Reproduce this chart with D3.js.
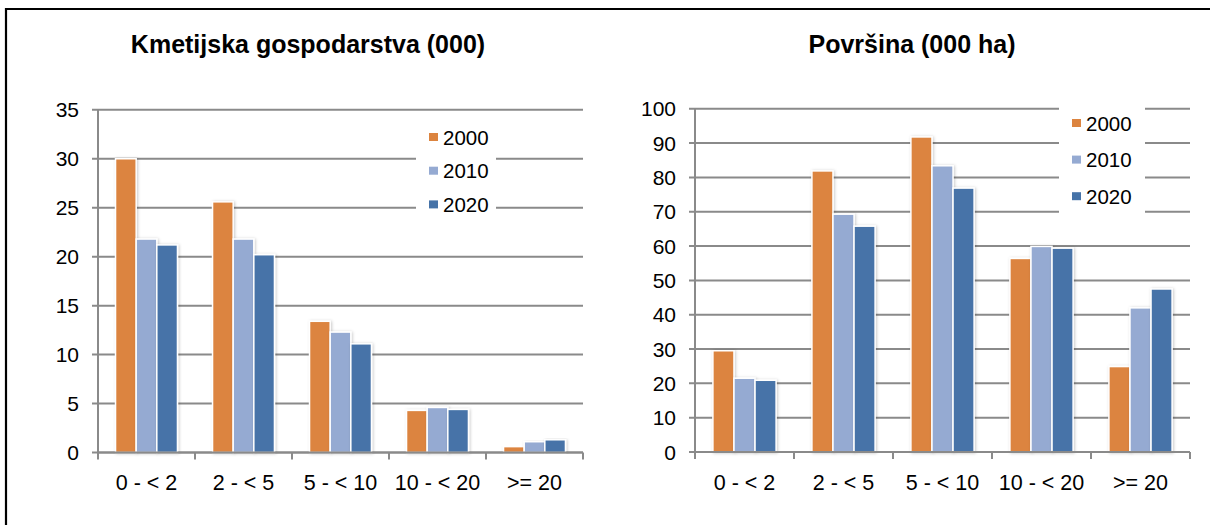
<!DOCTYPE html>
<html>
<head>
<meta charset="utf-8">
<script src="https://cdn.jsdelivr.net/npm/d3@7"></script>
<style>
  html, body { margin: 0; background: #fff; overflow: hidden; }
  svg { display: block; font-family: "Liberation Sans", Arial, sans-serif; }
</style>
</head>
<body>
<div id="viz"></div>
<script>
// data
var categories = ["0 - < 2", "2 - < 5", "5 - < 10", "10 - < 20", ">= 20"];
var years = ["2000", "2010", "2020"];

var holdings2000 = [30.0, 25.6, 13.4, 4.3, 0.6];
var holdings2010 = [21.8, 21.8, 12.3, 4.6, 1.1];
var holdings2020 = [21.2, 20.2, 11.1, 4.4, 1.3];
var holdingsTicks = [0, 5, 10, 15, 20, 25, 30, 35];

var area2000 = [29.5, 81.9, 91.8, 56.4, 24.9];
var area2010 = [21.5, 69.3, 83.4, 59.9, 42.0];
var area2020 = [20.9, 65.8, 76.9, 59.4, 47.5];
var areaTicks = [0, 10, 20, 30, 40, 50, 60, 70, 80, 90, 100];

var colors = ["#dc843f", "#95aad2", "#4673a8"];
var gridColor = "#8a8a8a";

var width = 1210, height = 525;

var svg = d3.select("#viz").append("svg")
    .attr("width", width)
    .attr("height", height);

var defs = svg.append("defs");
var shadow = defs.append("filter").attr("id", "shadow")
    .attr("x", "-30%").attr("y", "-10%").attr("width", "160%").attr("height", "120%");
shadow.append("feDropShadow")
    .attr("dx", 1).attr("dy", 0.5)
    .attr("stdDeviation", 1.6)
    .attr("flood-color", "#000")
    .attr("flood-opacity", 0.22);

// outer frame, only top and left edges are inside the window
svg.append("path")
    .attr("d", "M6,530V9H1215")
    .attr("fill", "none")
    .attr("stroke", "#000")
    .attr("stroke-width", 2.2);

function drawChart(cfg) {
  var g = svg.append("g");

  var x = d3.scaleBand().domain(categories).range([cfg.left, cfg.right]);
  var xs = d3.scaleBand().domain(years).range([0, x.bandwidth()]).paddingOuter(0.85);
  var y = d3.scaleLinear().domain([0, cfg.max]).range([cfg.bottom, cfg.top]);

  // title
  g.append("text")
      .attr("x", cfg.titleX).attr("y", 53)
      .attr("text-anchor", "middle")
      .attr("font-weight", "bold")
      .attr("font-size", 25)
      .attr("fill", "#000")
      .text(cfg.title);

  // grid
  g.selectAll("line.grid")
      .data(cfg.ticks)
      .enter().append("line")
      .attr("class", "grid")
      .attr("x1", cfg.left - 6).attr("x2", cfg.right)
      .attr("y1", function(d) { return y(d); })
      .attr("y2", function(d) { return y(d); })
      .attr("stroke", gridColor)
      .attr("stroke-width", 2);

  g.selectAll("text.ytick")
      .data(cfg.ticks)
      .enter().append("text")
      .attr("class", "ytick")
      .attr("x", cfg.left - 19)
      .attr("y", function(d) { return y(d) + 7.5; })
      .attr("text-anchor", "end")
      .attr("font-size", 21)
      .attr("fill", "#000")
      .text(function(d) { return d; });

  // y axis line + x ticks
  g.append("line")
      .attr("x1", cfg.left).attr("x2", cfg.left)
      .attr("y1", y(cfg.max)).attr("y2", cfg.bottom + 7)
      .attr("stroke", gridColor).attr("stroke-width", 2);

  var edges = categories.map(function(c) { return x(c); }).concat([cfg.right]);
  g.selectAll("line.xtick")
      .data(edges.slice(1))
      .enter().append("line")
      .attr("class", "xtick")
      .attr("x1", function(d) { return d; })
      .attr("x2", function(d) { return d; })
      .attr("y1", cfg.bottom).attr("y2", cfg.bottom + 7)
      .attr("stroke", gridColor).attr("stroke-width", 2);

  // legend box hides grid behind it
  g.append("rect")
      .attr("x", cfg.legX - 13).attr("y", cfg.legY0 - 22)
      .attr("width", cfg.legBoxW).attr("height", cfg.legBoxH)
      .attr("fill", "#fff");

  // bars
  var groups = g.selectAll("g.cat")
      .data(categories)
      .enter().append("g")
      .attr("class", "cat")
      .attr("transform", function(d) { return "translate(" + x(d) + ",0)"; });

  groups.selectAll("rect")
      .data(function(d, i) {
        return cfg.series.map(function(s, j) { return { year: years[j], value: s[i], color: colors[j] }; });
      })
      .enter().append("rect")
      .attr("x", function(d) { return xs(d.year); })
      .attr("y", function(d) { return y(d.value); })
      .attr("width", xs.bandwidth())
      .attr("height", function(d) { return cfg.bottom - y(d.value); })
      .attr("fill", function(d) { return d.color; })
      .attr("stroke", "#fff")
      .attr("stroke-width", 1.5)
      .attr("filter", "url(#shadow)");

  // x axis line on top of bars
  g.append("line")
      .attr("x1", cfg.left).attr("x2", cfg.right)
      .attr("y1", cfg.bottom).attr("y2", cfg.bottom)
      .attr("stroke", gridColor).attr("stroke-width", 2);

  g.selectAll("text.xlab")
      .data(categories)
      .enter().append("text")
      .attr("class", "xlab")
      .attr("x", function(d) { return x(d) + x.bandwidth() / 2; })
      .attr("y", 490)
      .attr("text-anchor", "middle")
      .attr("font-size", 21.5)
      .attr("fill", "#000")
      .text(function(d) { return d; });

  // legend
  var leg = g.selectAll("g.leg")
      .data(years)
      .enter().append("g")
      .attr("class", "leg")
      .attr("transform", function(d, i) { return "translate(" + cfg.legX + "," + (cfg.legY0 + i * cfg.legStep) + ")"; });
  leg.append("rect")
      .attr("x", 0).attr("y", -4)
      .attr("width", 9).attr("height", 8)
      .attr("fill", function(d, i) { return colors[i]; });
  leg.append("text")
      .attr("x", 14).attr("y", 7.5)
      .attr("font-size", 20.5)
      .attr("fill", "#000")
      .text(function(d) { return d; });
}

drawChart({
  title: "Kmetijska gospodarstva (000)", titleX: 308,
  left: 98, right: 583, top: 109.8, bottom: 452.5, max: 35,
  ticks: holdingsTicks,
  series: [holdings2000, holdings2010, holdings2020],
  legX: 429, legY0: 137, legStep: 33.7, legBoxW: 80, legBoxH: 106
});

drawChart({
  title: "Površina (000 ha)", titleX: 912,
  left: 695, right: 1190, top: 108.8, bottom: 452, max: 100,
  ticks: areaTicks,
  series: [area2000, area2010, area2020],
  legX: 1072, legY0: 123, legStep: 36.6, legBoxW: 86, legBoxH: 120
});
</script>
</body>
</html>
